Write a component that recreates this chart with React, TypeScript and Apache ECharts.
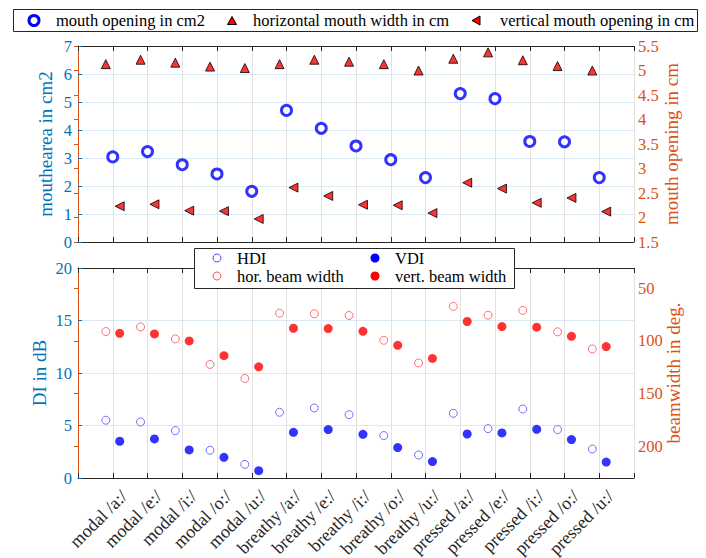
import React, { useEffect, useRef } from "react";
import * as echarts from "echarts";

const categories = [
  "modal /a:/", "modal /e:/", "modal /i:/", "modal /o:/", "modal /u:/",
  "breathy /a:/", "breathy /e:/", "breathy /i:/", "breathy /o:/", "breathy /u:/",
  "pressed /a:/", "pressed /e:/", "pressed /i:/", "pressed /o:/", "pressed /u:/",
];
const mouthArea = [3.04, 3.23, 2.76, 2.43, 1.81, 4.70, 4.06, 3.43, 2.94, 2.30, 5.30, 5.12, 3.59, 3.58, 2.30];
const horMouthWidth = [5.13, 5.22, 5.16, 5.08, 5.05, 5.13, 5.22, 5.18, 5.13, 5.00, 5.24, 5.37, 5.21, 5.09, 5.00];
const vertMouthOpening = [2.23, 2.27, 2.14, 2.13, 1.97, 2.61, 2.44, 2.26, 2.25, 2.09, 2.71, 2.59, 2.30, 2.40, 2.12];
const hdi = [5.50, 5.34, 4.51, 2.64, 1.30, 6.26, 6.67, 6.03, 4.04, 2.19, 6.16, 4.70, 6.57, 4.61, 2.76];
const vdi = [3.50, 3.72, 2.67, 1.97, 0.70, 4.35, 4.61, 4.16, 2.90, 1.56, 4.19, 4.29, 4.64, 3.66, 1.52];
const horBeam = [91.2, 86.8, 98.2, 122.4, 135.7, 73.8, 74.4, 76.0, 99.5, 121.0, 67.4, 75.7, 71.2, 91.5, 107.7];
const vertBeam = [92.9, 93.5, 100.1, 114.1, 124.6, 88.1, 88.4, 91.0, 104.3, 116.7, 81.7, 86.5, 87.1, 95.7, 105.5];
const beamTicks = [50, 100, 150, 200];

const FONT = "'Liberation Serif', 'DejaVu Serif'";
const DARK = "#262626";
const BLUE_AX = "#0072BD";
const ORANGE_AX = "#D95319";

const pts = (vals: number[], off: number) => vals.map((v, i) => [i + 1 + off, v]);

export default function App() {
  const ref = useRef<HTMLDivElement>(null);
  useEffect(() => {
    const chart = echarts.init(ref.current!, null, { renderer: "svg" });
    const xBase = (gridIndex: number, position: "top" | "bottom", labels: boolean) => ({
      type: "value" as const,
      gridIndex,
      position,
      min: 0,
      max: 16,
      interval: 1,
      axisLine: { show: true, lineStyle: { color: DARK, width: 1 } },
      axisTick: { show: true, inside: true, length: 5, lineStyle: { color: DARK } },
      axisLabel: {
        show: labels,
        rotate: 45,
        margin: 4,
        fontFamily: FONT,
        fontSize: 18,
        lineHeight: 32,
        verticalAlign: "top",
        color: DARK,
        formatter: (v: number) => (v >= 1 && v <= 15 ? categories[v - 1] : ""),
      },
      splitLine: { show: position === "bottom", lineStyle: { color: "#e2e2e2" } },
    });
    const lg = (text: string, x: number, y: number) => ({
      type: "text", x, y, z: 110,
      style: { text, fontFamily: FONT, fontSize: 16.5, fill: "#000", align: "left", verticalAlign: "middle" },
    });
    const yName = (name: string, gap: number, color: string) => ({
      name, nameLocation: "middle", nameRotate: 90, nameGap: gap, nameMoveOverlap: false,
      nameTextStyle: { fontFamily: FONT, fontSize: 19, color },
    });
    const option: any = {
      animation: false,
      backgroundColor: "#fff",
      textStyle: { fontFamily: FONT },
      grid: [
        { left: 78, right: 72, top: 46, height: 196, containLabel: false, outerBoundsMode: "none" },
        { left: 78, right: 72, top: 268, height: 210, containLabel: false, outerBoundsMode: "none" },
      ],
      xAxis: [xBase(0, "bottom", false), xBase(0, "top", false), xBase(1, "bottom", true), xBase(1, "top", false)],
      yAxis: [
        {
          type: "value", gridIndex: 0, position: "left", min: 0, max: 7, interval: 1,
          ...yName("mouthearea in cm2", 23, BLUE_AX),
          axisLine: { show: true, lineStyle: { color: BLUE_AX } },
          axisTick: { show: true, inside: true, length: 4, lineStyle: { color: BLUE_AX } },
          axisLabel: { fontFamily: FONT, fontSize: 16.5, color: BLUE_AX, margin: 6 },
          splitLine: { show: true, lineStyle: { color: "#d9eaf5" } },
        },
        {
          type: "value", gridIndex: 0, position: "right", min: 1.5, max: 5.5, interval: 0.5,
          ...yName("mouth opening in cm", 28, ORANGE_AX),
          axisLine: { show: true, lineStyle: { color: ORANGE_AX } },
          axisTick: { show: true, inside: true, length: 4, lineStyle: { color: ORANGE_AX } },
          axisLabel: { fontFamily: FONT, fontSize: 16.5, color: ORANGE_AX, margin: 4 },
          splitLine: { show: false },
        },
        {
          type: "value", gridIndex: 1, position: "left", min: 0, max: 20, interval: 5,
          ...yName("DI in dB", 29, BLUE_AX),
          axisLine: { show: true, lineStyle: { color: BLUE_AX } },
          axisTick: { show: true, inside: true, length: 4, lineStyle: { color: BLUE_AX } },
          axisLabel: { fontFamily: FONT, fontSize: 16.5, color: BLUE_AX, margin: 6 },
          splitLine: { show: true, lineStyle: { color: "#d9eaf5" } },
        },
        {
          type: "value", gridIndex: 1, position: "right", min: 31, max: 230, inverse: true,
          ...yName("beamwidth in deg.", 30, ORANGE_AX),
          axisLine: { show: true, lineStyle: { color: ORANGE_AX } },
          axisTick: { show: true, inside: true, length: 4, customValues: beamTicks, lineStyle: { color: ORANGE_AX } },
          axisLabel: { fontFamily: FONT, fontSize: 16.5, color: ORANGE_AX, margin: 4, customValues: beamTicks },
          splitLine: { show: false },
        },
      ],
      series: [
        {
          type: "scatter", name: "mouth opening in cm2", xAxisIndex: 0, yAxisIndex: 0,
          data: pts(mouthArea, 0), symbol: "circle", symbolSize: 10,
          itemStyle: { color: "#ffffff", borderColor: "#0000ff", borderWidth: 3 },
        },
        {
          type: "scatter", name: "horizontal mouth width in cm", xAxisIndex: 0, yAxisIndex: 1,
          data: pts(horMouthWidth, -0.2), symbol: "triangle", symbolSize: 9,
          itemStyle: { color: "#ff0000", borderColor: "#000", borderWidth: 1 },
        },
        {
          type: "scatter", name: "vertical mouth opening in cm", xAxisIndex: 0, yAxisIndex: 1,
          data: pts(vertMouthOpening, 0.2), symbol: "triangle", symbolRotate: 90, symbolSize: 9,
          itemStyle: { color: "#ff0000", borderColor: "#000", borderWidth: 1 },
        },
        {
          type: "scatter", name: "HDI", xAxisIndex: 2, yAxisIndex: 2,
          data: pts(hdi, -0.2), symbol: "circle", symbolSize: 8,
          itemStyle: { color: "#ffffff", borderColor: "#4d4dff", borderWidth: 1 },
        },
        {
          type: "scatter", name: "VDI", xAxisIndex: 2, yAxisIndex: 2,
          data: pts(vdi, 0.2), symbol: "circle", symbolSize: 9,
          itemStyle: { color: "#0000ff" },
        },
        {
          type: "scatter", name: "hor. beam width", xAxisIndex: 2, yAxisIndex: 3,
          data: pts(horBeam, -0.2), symbol: "circle", symbolSize: 8,
          itemStyle: { color: "#ffffff", borderColor: "#ff4d4d", borderWidth: 1 },
        },
        {
          type: "scatter", name: "vert. beam width", xAxisIndex: 2, yAxisIndex: 3,
          data: pts(vertBeam, 0.2), symbol: "circle", symbolSize: 9,
          itemStyle: { color: "#ff0000" },
        },
      ],
      graphic: [
        { type: "rect", z: 100, shape: { x: 13.5, y: 9.5, width: 684, height: 22 }, style: { fill: "#fff", stroke: DARK, lineWidth: 1 } },
        { type: "circle", z: 110, shape: { cx: 34, cy: 20.5, r: 5 }, style: { fill: "#fff", stroke: "#0000ff", lineWidth: 3 } },
        lg("mouth opening in cm2", 56, 20.5),
        { type: "polygon", z: 110, shape: { points: [[227.5, 24.5], [236.5, 24.5], [232, 16.5]] }, style: { fill: "#ff0000", stroke: "#000", lineWidth: 1 } },
        lg("horizontal mouth width in cm", 253, 20.5),
        { type: "polygon", z: 110, shape: { points: [[472, 20.5], [480, 16], [480, 25]] }, style: { fill: "#ff0000", stroke: "#000", lineWidth: 1 } },
        lg("vertical mouth opening in cm", 500, 20.5),
        { type: "rect", z: 100, shape: { x: 194.5, y: 248.5, width: 320, height: 40 }, style: { fill: "#fff", stroke: DARK, lineWidth: 1 } },
        { type: "circle", z: 110, shape: { cx: 217, cy: 258, r: 4 }, style: { fill: "#fff", stroke: "#4d4dff", lineWidth: 1 } },
        lg("HDI", 237, 258),
        { type: "circle", z: 110, shape: { cx: 375, cy: 258, r: 4.5 }, style: { fill: "#0000ff" } },
        lg("VDI", 395, 258),
        { type: "circle", z: 110, shape: { cx: 217, cy: 276, r: 4 }, style: { fill: "#fff", stroke: "#ff4d4d", lineWidth: 1 } },
        lg("hor. beam width", 237, 276),
        { type: "circle", z: 110, shape: { cx: 375, cy: 276, r: 4.5 }, style: { fill: "#ff0000" } },
        lg("vert. beam width", 395, 276),
      ],
    };
    chart.setOption(option);
    return () => chart.dispose();
  }, []);
  return <div ref={ref} style={{ width: 706, height: 558, position: "absolute", left: 0, top: 0 }} />;
}
